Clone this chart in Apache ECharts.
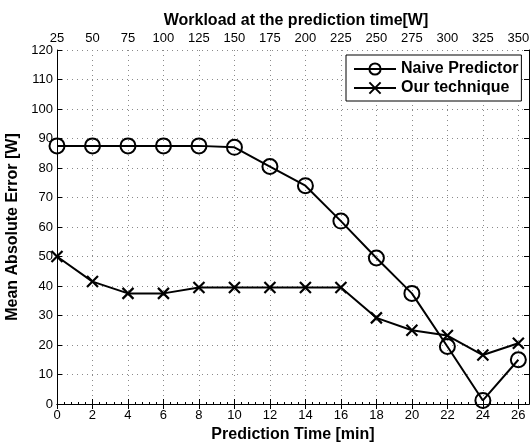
<!DOCTYPE html>
<html>
<head>
<meta charset="utf-8">
<script src="https://cdn.jsdelivr.net/npm/echarts@6/dist/echarts.min.js"></script>
<style>
  html, body { margin: 0; padding: 0; background: #fff; }
  #chart { width: 532px; height: 446px; }
</style>
</head>
<body>
<div id="chart"></div>
<script>
// prediction time [min]
const predTime = [0, 2, 4, 6, 8, 10, 12, 14, 16, 18, 20, 22, 24, 26];
// mean absolute error [W]
const naive = [87.5, 87.5, 87.5, 87.5, 87.5, 87, 80.5, 74, 62, 49.5, 37.5, 19.5, 1.2, 15];
const ours = [50, 41.5, 37.5, 37.5, 39.5, 39.5, 39.5, 39.5, 39.5, 29.2, 25, 23.2, 16.6, 20.6];
// top axis: workload 25..350 W, aligned with 0..26 min
const workloadMin = 25, workloadStep = 12.5;

const FONT = "Liberation Sans, Arial, sans-serif";
const X_MAX = 26.6;

const chart = echarts.init(document.getElementById("chart"));

const xMark = "path://M0,0L10,10M10,0L0,10";

const tickStyle = { inside: true, length: 5, lineStyle: { color: "#000", width: 1 } };
const lbl = { color: "#000", fontSize: 13, fontFamily: FONT };
const bold = { fontSize: 16, fontWeight: "bold", color: "#000", fontFamily: FONT };
const dotted = { show: true, lineStyle: { color: "#8a8a8a", type: [1, 4], width: 1 } };

chart.setOption({
  animation: false,
  backgroundColor: "#fff",
  textStyle: { fontFamily: FONT },
  title: {
    text: "Workload at the prediction time[W]",
    left: 291, top: 8, textAlign: "center",
    textStyle: bold,
  },
  grid: { left: 57, right: 3, top: 50, bottom: 42, show: false, containLabel: false, outerBoundsMode: "none" },
  legend: {
    orient: "vertical", left: 346, top: 55, padding: [6, 3, 5, 7],
    itemWidth: 42, itemHeight: 14, itemGap: 3,
    borderColor: "#000", borderWidth: 1, backgroundColor: "#fff",
    textStyle: Object.assign({ lineHeight: 16 }, bold),
    data: ["Naive Predictor", "Our technique"],
  },
  xAxis: [
    {
      type: "value", position: "bottom", min: 0, max: X_MAX, interval: 2,
      name: "Prediction Time [min]", nameLocation: "middle", nameGap: 20,
      nameTextStyle: bold,
      axisLine: { lineStyle: { color: "#000", width: 1 } },
      axisTick: tickStyle,
      minorTick: { show: true, splitNumber: 5, length: 2, lineStyle: { color: "#000" } },
      axisLabel: Object.assign({ margin: 5, showMaxLabel: false }, lbl),
      splitLine: dotted,
    },
    {
      type: "value", position: "top", min: workloadMin, max: workloadMin + workloadStep * X_MAX, interval: 25,
      axisLine: { show: true, lineStyle: { color: "#000", width: 1 } },
      axisTick: tickStyle,
      axisLabel: Object.assign({ margin: 5, showMaxLabel: false }, lbl),
      splitLine: { show: false },
    },
  ],
  yAxis: [
    {
      type: "value", min: 0, max: 120, interval: 10,
      name: "Mean Absolute Error [W]", nameLocation: "middle", nameGap: 29,
      nameTextStyle: bold,
      axisLine: { show: true, lineStyle: { color: "#000", width: 1 } },
      axisTick: tickStyle,
      axisLabel: Object.assign({ margin: 4 }, lbl),
      splitLine: dotted,
    },
    {
      type: "value", position: "right", min: 0, max: 120, interval: 10,
      axisLine: { show: true, lineStyle: { color: "#000", width: 1 } },
      axisTick: tickStyle,
      axisLabel: { show: false },
      splitLine: { show: false },
    },
  ],
  series: [
    {
      name: "Naive Predictor", type: "line", xAxisIndex: 0, yAxisIndex: 0,
      data: predTime.map((t, i) => [t, naive[i]]),
      symbol: "circle", symbolSize: 15,
      lineStyle: { color: "#000", width: 2 },
      itemStyle: { color: "rgba(0,0,0,0)", borderColor: "#000", borderWidth: 2 },
      z: 3,
    },
    {
      name: "Our technique", type: "line", xAxisIndex: 0, yAxisIndex: 0,
      data: predTime.map((t, i) => [t, ours[i]]),
      symbol: xMark, symbolSize: 11,
      lineStyle: { color: "#000", width: 2 },
      itemStyle: { color: "#000", borderColor: "#000", borderWidth: 2.2 },
      z: 3,
    },
  ],
});
</script>
</body>
</html>
